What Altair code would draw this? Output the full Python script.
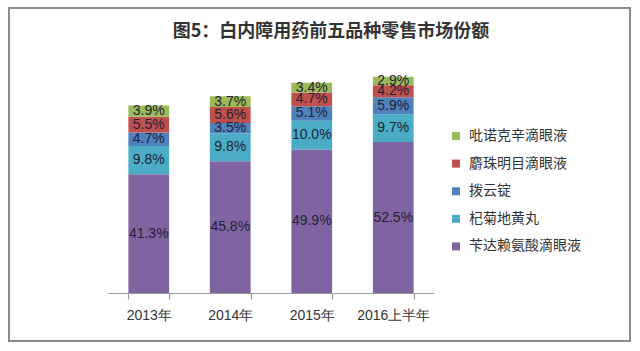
import altair as alt
import pandas as pd

title_text = "图5：白内障用药前五品种零售市场份额"
years = ["2013年", "2014年", "2015年", "2016上半年"]
series = ["吡诺克辛滴眼液", "麝珠明目滴眼液", "拨云锭", "杞菊地黄丸", "苄达赖氨酸滴眼液"]
colors = ["#9BBB59", "#C0504D", "#4F81BD", "#4BACC6", "#8064A2"]
# values per series, in the order of `years`
vals = {
    "苄达赖氨酸滴眼液": [41.3, 45.8, 49.9, 52.5],
    "杞菊地黄丸": [9.8, 9.8, 10.0, 9.7],
    "拨云锭": [4.7, 3.5, 5.1, 5.9],
    "麝珠明目滴眼液": [5.5, 5.6, 4.7, 4.2],
    "吡诺克辛滴眼液": [3.9, 3.7, 3.4, 2.9],
}
stack_order = ["苄达赖氨酸滴眼液", "杞菊地黄丸", "拨云锭", "麝珠明目滴眼液", "吡诺克辛滴眼液"]

rows = []
for s in stack_order:
    for i, y in enumerate(years):
        rows.append({"year": y, "series": s, "value": vals[s][i], "order": stack_order.index(s)})
df = pd.DataFrame(rows)

base = alt.Chart(df).transform_stack(
    stack="value", as_=["y0", "y1"], groupby=["year"], sort=[alt.SortField("order")]
).transform_calculate(
    mid="(datum.y0 + datum.y1) / 2",
    label="format(datum.value, '.1f') + '%'",
)

xenc = alt.X(
    "year:N", sort=years, title=None,
    scale=alt.Scale(paddingInner=0.5, paddingOuter=0.25),
    axis=alt.Axis(
        labelAngle=0, labelFontSize=14, labelColor="#333333", labelFont="Liberation Sans",
        domainColor="#999999", tickColor="#999999", tickSize=6, tickBand="extent",
        labelPadding=9, domainWidth=1.2, tickWidth=1.2,
    ),
)
yscale = alt.Scale(domain=[0, 80])

bars = base.mark_bar().encode(
    x=xenc,
    y=alt.Y("y0:Q", scale=yscale, axis=None),
    y2="y1:Q",
    color=alt.Color(
        "series:N",
        scale=alt.Scale(domain=series, range=colors),
        legend=alt.Legend(
            title=None, orient="none", legendX=341, legendY=66,
            symbolType="square", symbolSize=64, symbolStrokeWidth=0,
            labelFontSize=14, labelColor="#333333", labelFont="Noto Sans CJK SC",
            rowPadding=13.6, labelOffset=6, padding=0,
        ),
    ),
)

texts = base.mark_text(fontSize=14, font="Liberation Sans", color="#222233").encode(
    x=alt.X("year:N", sort=years),
    y=alt.Y("mid:Q", scale=yscale),
    text="label:N",
)

frame = alt.Chart(alt.Data(values=[{"a": 1}])).mark_rect(
    fill="transparent", stroke="#8c8c8c", strokeWidth=2
).encode(
    x=alt.value(-99), x2=alt.value(522), y=alt.value(-55), y2=alt.value(278)
)

title = alt.Chart(alt.Data(values=[{"t": title_text}])).mark_text(
    fontSize=18, font="Noto Sans CJK SC", fontWeight="bold", color="#333333",
    align="center", baseline="middle",
).encode(x=alt.value(223), y=alt.value(-31), text="t:N")

chart = alt.layer(frame, title, bars, texts).properties(
    width=326, height=230,
    autosize=alt.AutoSizeParams(type="none"),
    padding={"left": 108, "top": 63, "right": 206, "bottom": 58},
).configure(background="white").configure_view(strokeWidth=0)

chart.save("out.html", embed_options={"renderer": "svg", "actions": False})
